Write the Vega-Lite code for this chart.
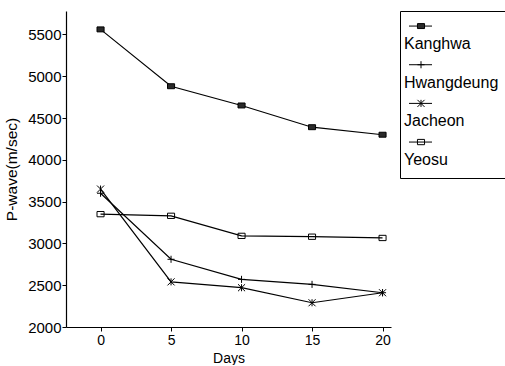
{
  "$schema": "https://vega.github.io/schema/vega-lite/v6.json",
  "padding": {"left": 4, "top": 10, "right": 0, "bottom": 0},
  "background": "white",
  "spacing": 8,
  "config": {
    "font": "Liberation Sans",
    "axis": {"grid": false, "domainColor": "black", "domainWidth": 1.2, "tickColor": "black", "tickWidth": 1, "labelColor": "black", "titleColor": "black", "labelFont": "Liberation Sans", "titleFont": "Liberation Sans", "labelFontSize": 14, "titleFontSize": 14, "titleFontWeight": "normal"}
  },
  "datasets": {
    "pw": [
      {"series": "Kanghwa", "day": 0, "v": 5560},
      {"series": "Kanghwa", "day": 5, "v": 4880},
      {"series": "Kanghwa", "day": 10, "v": 4650},
      {"series": "Kanghwa", "day": 15, "v": 4390},
      {"series": "Kanghwa", "day": 20, "v": 4300},
      {"series": "Hwangdeung", "day": 0, "v": 3600},
      {"series": "Hwangdeung", "day": 5, "v": 2810},
      {"series": "Hwangdeung", "day": 10, "v": 2570},
      {"series": "Hwangdeung", "day": 15, "v": 2510},
      {"series": "Hwangdeung", "day": 20, "v": 2410},
      {"series": "Jacheon", "day": 0, "v": 3650},
      {"series": "Jacheon", "day": 5, "v": 2540},
      {"series": "Jacheon", "day": 10, "v": 2470},
      {"series": "Jacheon", "day": 15, "v": 2290},
      {"series": "Jacheon", "day": 20, "v": 2410},
      {"series": "Yeosu", "day": 0, "v": 3350},
      {"series": "Yeosu", "day": 5, "v": 3330},
      {"series": "Yeosu", "day": 10, "v": 3090},
      {"series": "Yeosu", "day": 15, "v": 3080},
      {"series": "Yeosu", "day": 20, "v": 3065}
    ],
    "leg": [
      {"series": "Kanghwa", "order": 1},
      {"series": "Hwangdeung", "order": 2},
      {"series": "Jacheon", "order": 3},
      {"series": "Yeosu", "order": 4}
    ]
  },
  "resolve": {"scale": {"x": "independent", "y": "independent", "shape": "independent", "fill": "independent"}},
  "hconcat": [
    {
      "width": 325,
      "height": 316,
      "view": {"stroke": null},
      "data": {"name": "pw"},
      "encoding": {
        "x": {"field": "day", "type": "quantitative", "scale": {"domain": [-2.45, 20.6], "nice": false, "zero": false}, "axis": {"values": [0, 5, 10, 15, 20], "title": "Days", "tickSize": 4, "labelPadding": 2, "titlePadding": 4}},
        "y": {"field": "v", "type": "quantitative", "scale": {"domain": [2000, 5780], "nice": false, "zero": false}, "axis": {"values": [2000, 2500, 3000, 3500, 4000, 4500, 5000, 5500], "format": "d", "title": "P-wave(m/sec)", "labelFontSize": 15, "titleFontSize": 15.5, "tickSize": 4, "labelPadding": 1, "titlePadding": 8}}
      },
      "layer": [
        {"mark": {"type": "line", "color": "black", "strokeWidth": 1.2}, "encoding": {"detail": {"field": "series"}}},
        {
          "mark": {"type": "point", "filled": true, "stroke": "black", "strokeWidth": 1, "size": 50, "opacity": 1},
          "encoding": {
            "shape": {"field": "series", "scale": {"domain": ["Kanghwa", "Hwangdeung", "Jacheon", "Yeosu"], "range": ["M-1,-0.7H1V0.7H-1Z", "M-1,0H1M0,-1V1", "M-1,-1L1,1M-1,1L1,-1M0,-1V1", "M-1,-0.75H1V0.75H-1Z"]}, "legend": null},
            "fill": {"field": "series", "scale": {"domain": ["Kanghwa", "Hwangdeung", "Jacheon", "Yeosu"], "range": ["#2a2a2a", "transparent", "transparent", "transparent"]}, "legend": null}
          }
        }
      ]
    },
    {
      "width": 108,
      "height": 167,
      "view": {"stroke": "black", "strokeWidth": 1},
      "data": {"name": "leg"},
      "encoding": {
        "y": {"field": "order", "type": "quantitative", "scale": {"domain": [0.61, 4.93], "reverse": true, "nice": false, "zero": false}, "axis": null}
      },
      "layer": [
        {
          "mark": {"type": "rule", "color": "black", "strokeWidth": 1},
          "encoding": {
            "x": {"datum": 9, "type": "quantitative", "scale": {"domain": [0, 108], "nice": false, "zero": false}, "axis": null},
            "x2": {"datum": 32}
          }
        },
        {
          "mark": {"type": "point", "filled": true, "stroke": "black", "strokeWidth": 1, "size": 50, "opacity": 1},
          "encoding": {
            "x": {"datum": 21, "type": "quantitative"},
            "shape": {"field": "series", "scale": {"domain": ["Kanghwa", "Hwangdeung", "Jacheon", "Yeosu"], "range": ["M-1,-0.7H1V0.7H-1Z", "M-1,0H1M0,-1V1", "M-1,-1L1,1M-1,1L1,-1M0,-1V1", "M-1,-0.75H1V0.75H-1Z"]}, "legend": null},
            "fill": {"field": "series", "scale": {"domain": ["Kanghwa", "Hwangdeung", "Jacheon", "Yeosu"], "range": ["#2a2a2a", "transparent", "transparent", "transparent"]}, "legend": null}
          }
        },
        {
          "mark": {"type": "text", "align": "left", "baseline": "middle", "dy": 18, "fontSize": 16, "font": "Liberation Sans", "color": "black"},
          "encoding": {
            "x": {"datum": 4, "type": "quantitative"},
            "text": {"field": "series"}
          }
        }
      ]
    }
  ]
}
